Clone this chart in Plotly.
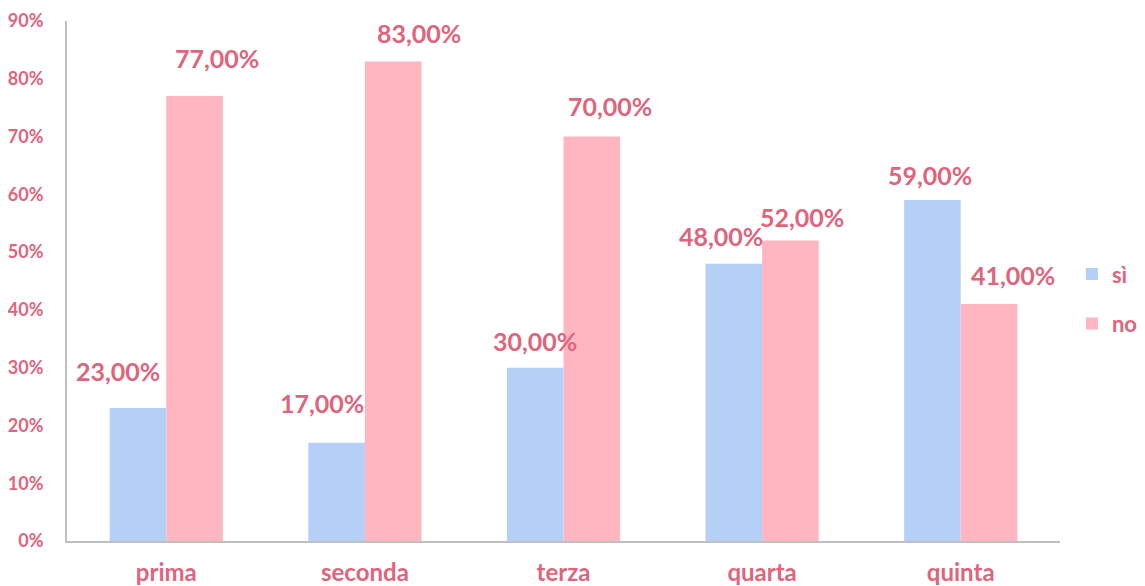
import plotly.graph_objects as go

categories = ["prima", "seconda", "terza", "quarta", "quinta"]
si_values = [23, 17, 30, 48, 59]
no_values = [77, 83, 70, 52, 41]
series_names = ["sì", "no"]

TEXT = "#E0647C"
FONT = "Lato"
BLUE = "#B5D0F6"
PINK = "#FFB6C1"

# label placement tweaks (pixels) relative to bar top-centre
si_label_shift = [(-20, 37), (-15, 40), (0, 27), (-13, 28), (-2, 25)]
no_label_shift = [(22, 38), (26, 28), (18, 31), (12, 24), (24, 29)]

fig = go.Figure()
fig.add_trace(go.Bar(x=categories, y=si_values, name=series_names[0],
                     marker=dict(color=BLUE, line=dict(width=0)),
                     legendgroup="a"))
fig.add_trace(go.Bar(x=categories, y=no_values, name=series_names[1],
                     marker=dict(color=PINK, line=dict(width=0)),
                     legendgroup="b"))

def fmt(v):
    return f"{v:.2f}".replace(".", ",") + "%"

label_font = dict(family=FONT, size=25, color=TEXT, weight="bold")
annotations = []
for i, v in enumerate(si_values):
    dx, dy = si_label_shift[i]
    annotations.append(dict(x=i - 0.1425, y=v, xref="x", yref="y", text=fmt(v),
                            showarrow=False, xshift=dx, yshift=dy, font=label_font))
for i, v in enumerate(no_values):
    dx, dy = no_label_shift[i]
    annotations.append(dict(x=i + 0.1425, y=v, xref="x", yref="y", text=fmt(v),
                            showarrow=False, xshift=dx, yshift=dy, font=label_font))

# page body has an 8px margin, so the figure is sized/offset accordingly
fig.update_layout(
    width=1137, height=578,
    margin=dict(l=59, r=85, t=13, b=45, autoexpand=False),
    paper_bgcolor="white", plot_bgcolor="white",
    barmode="group", bargap=0.43, bargroupgap=0,
    font=dict(family=FONT, color=TEXT),
    annotations=annotations,
    legend=dict(x=1.012, y=0.465, yanchor="middle", xanchor="left",
                font=dict(family=FONT, size=22, color=TEXT, weight="bold"),
                tracegroupgap=18, itemwidth=30, borderwidth=0),
    showlegend=True,
)
fig.update_xaxes(showline=True, linecolor="#BFBFBF", linewidth=2, showgrid=False,
                 ticks="", ticklabelstandoff=9, automargin=False,
                 tickfont=dict(family=FONT, size=24, color=TEXT, weight="bold"))
fig.update_yaxes(range=[0, 90], dtick=10, ticksuffix="%", showline=True,
                 linecolor="#BFBFBF", linewidth=2, showgrid=False, zeroline=False,
                 ticks="", ticklabelstandoff=18, automargin=False,
                 tickfont=dict(family=FONT, size=18, color=TEXT, weight="bold"))

fig.write_html("out.html")
